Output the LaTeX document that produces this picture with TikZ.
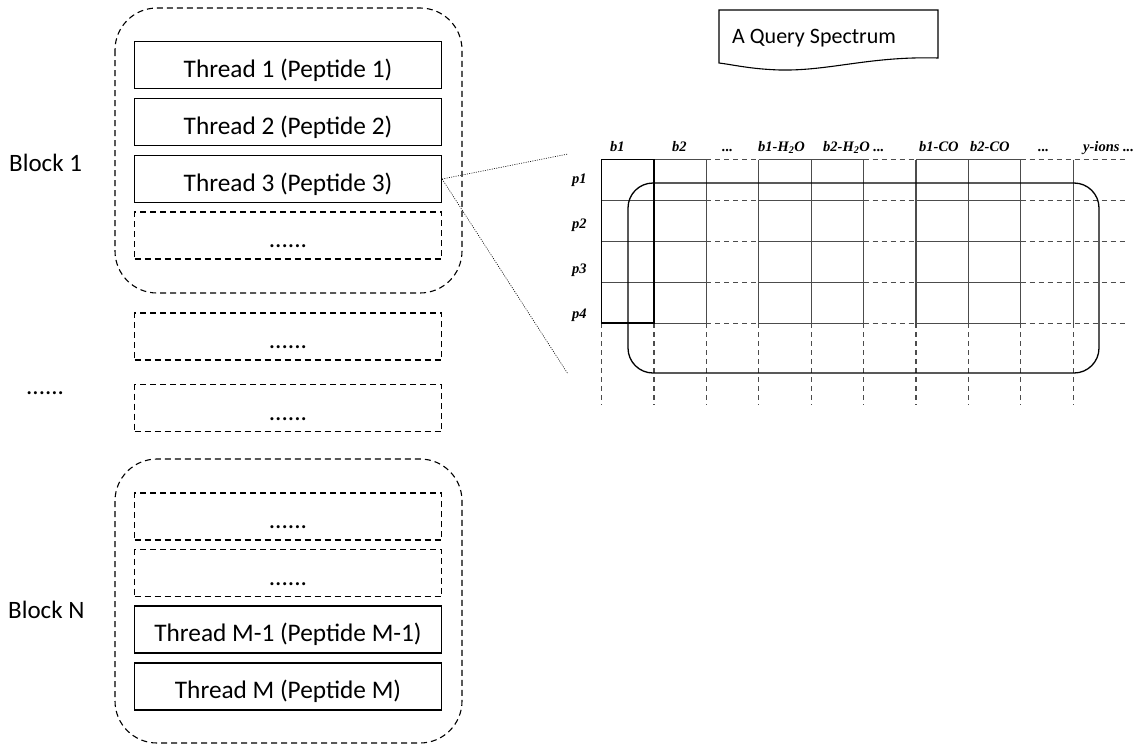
\documentclass[tikz,border=0pt]{standalone}
\usepackage{fontspec}
\setmainfont{Carlito}
\newfontfamily\ionfont{Liberation Serif}
\usetikzlibrary{positioning}

\begin{document}
\begin{tikzpicture}[x=1pt,y=-1pt,
  thread/.style={draw,line width=1.2pt,minimum width=307pt,minimum height=47pt,
    inner sep=0pt,text height=24pt,text depth=0pt,font=\fontsize{25.3}{29}\selectfont},
  spare/.style={thread,dash pattern=on 6pt off 4pt},
  block/.style={line width=1.1pt,dash pattern=on 6pt off 4pt,rounded corners=42pt},
  lbl/.style={inner sep=0pt,font=\fontsize{25}{29}\selectfont},
  ion/.style={inner sep=0pt,anchor=base west,font=\fontsize{14.5}{16}\ionfont\bfseries\itshape},
  cell/.style={line width=1.2pt,black!70},
  celldash/.style={cell,dash pattern=on 5pt off 4pt},
  zoomline/.style={line width=0.6pt,dash pattern=on 1pt off 1.3pt}]
\useasboundingbox (0,0) rectangle (1140,744);

% threads of block 1
\draw[block] (115,8) rectangle (462,293);
\node[thread] (t1) at (288,65) {Thread 1 (Peptide 1)};
\node[thread] (t2) at (288,122) {Thread 2 (Peptide 2)};
\node[thread] (t3) at (288,179) {Thread 3 (Peptide 3)};
\node[spare] (s1) at (288,235.5) {......};
\node[lbl,anchor=base west] (blk1) at (9,171) {Block 1};

% blocks in between
\node[spare] (s2) at (288,336.5) {......};
\node[spare] (s3) at (288,408) {......};
\node[lbl,anchor=base west] (more) at (26,394) {......};

% threads of block N
\draw[block] (115,459) rectangle (462,743);
\node[spare] (s4) at (288,516.5) {......};
\node[spare] (s5) at (288,573) {......};
\node[thread] (tm1) at (288,629.5) {Thread M-1 (Peptide M-1)};
\node[thread] (tm) at (288,686.5) {Thread M (Peptide M)};
\node[lbl,anchor=base west] (blkn) at (8,618) {Block N};

% the query spectrum
\draw[line width=1.1pt] (719,10) -- (938,10) -- (938,58)
  .. controls (870,56) and (830,71) .. (780,70)
  .. controls (750,69) and (735,65) .. (719,63) -- cycle;
\node[lbl,anchor=base west,font=\fontsize{22}{26}\selectfont] (query) at (732,43.5) {A Query Spectrum};

% score matrix: columns are ions, rows are peptides
\foreach \i in {0,...,9} {
  \draw[cell] (601.5+52.4*\i,159.5) -- (601.5+52.4*\i,323);
  \draw[celldash] (601.5+52.4*\i,323) -- (601.5+52.4*\i,405);
}
\foreach \j in {0,...,4} {
  \foreach \a/\b in {0/2,3/5,6/8}
    \draw[cell] (601.5+52.4*\a,159.5+40.9*\j) -- (601.5+52.4*\b,159.5+40.9*\j);
  \foreach \a/\b in {2/3,5/6}
    \draw[celldash] (601.5+52.4*\a,159.5+40.9*\j) -- (601.5+52.4*\b,159.5+40.9*\j);
  \draw[celldash] (1020.7,159.5+40.9*\j) -- (1125,159.5+40.9*\j);
}
\draw[line width=1.2pt] (601.5,159.5) rectangle (653.9,323);
\draw[line width=1.3pt] (628,183) [rounded corners=25pt] rectangle (1099,373);

\node[ion] (cb1) at (610,151) {b1};
\node[ion] (cb2) at (672,151) {b2};
\node[ion] (cd1) at (722,151) {...};
\node[ion] (cb1w) at (758,151) {b1-H\textsubscript{2}O};
\node[ion] (cb2w) at (823,151) {b2-H\textsubscript{2}O ...};
\node[ion] (cb1c) at (919,151) {b1-CO};
\node[ion] (cb2c) at (970,151) {b2-CO};
\node[ion] (cd2) at (1038,151) {...};
\node[ion] (cy) at (1083,151) {y-ions ...};
\foreach \j in {1,...,4}
  \node[ion,anchor=west] (p\j) at (572,135+45*\j) {p\j};

% thread 3 opens into the matrix
\coordinate (zt) at (568,154);
\coordinate (zb) at (568,374);
\draw[zoomline] (t3.east) -- (zt);
\draw[zoomline] (t3.east) -- (zb);
\end{tikzpicture}
\end{document}
